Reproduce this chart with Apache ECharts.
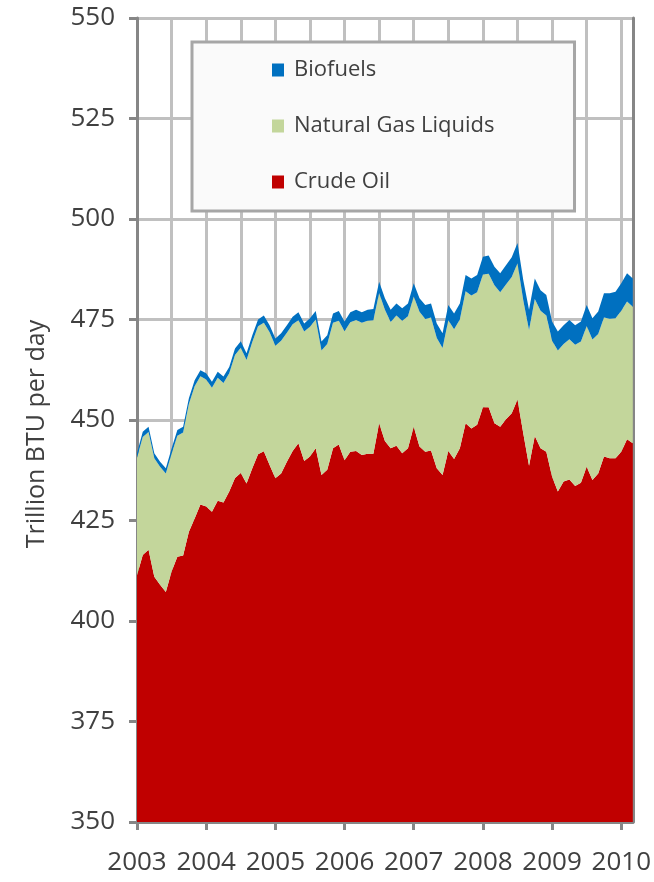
<!DOCTYPE html>
<html>
<head>
<meta charset="utf-8">
<script src="https://cdn.jsdelivr.net/npm/echarts@6/dist/echarts.min.js"></script>
<style>
  html, body { margin: 0; padding: 0; background: #fff; }
  #chart { width: 654px; height: 882px; }
</style>
</head>
<body>
<div id="chart"></div>
<script>
// monthly, Jan 2003 .. Mar 2010
var months = [];
for (var y = 2003; y <= 2010; y++) {
    for (var m = 1; m <= 12; m++) {
        if (y === 2010 && m > 3) break;
        months.push(y + '-' + (m < 10 ? '0' + m : m));
    }
}

var crudeOil = [
    411.4, 416.4, 417.7, 411.0, 409.0, 407.2, 412.3, 416.0, 416.3, 422.2, 425.5, 429.0,
    428.5, 427.2, 429.9, 429.5, 432.2, 435.6, 436.8, 434.2, 438.0, 441.5, 442.2, 438.8,
    435.5, 436.7, 439.6, 442.3, 444.2, 439.8, 440.9, 443.0, 436.3, 437.6, 443.0, 443.9,
    440.0, 442.1, 442.3, 441.3, 441.6, 441.6, 449.2, 444.8, 443.0, 443.6, 441.7, 443.0,
    448.3, 443.4, 442.1, 442.4, 438.0, 436.3, 442.3, 440.3, 443.0, 449.2, 447.9, 448.8,
    453.2, 453.2, 449.2, 448.3, 450.2, 451.7, 455.1, 446.7, 438.6, 446.0, 443.0, 442.1,
    435.9, 432.2, 434.7, 435.2, 433.6, 434.4, 438.4, 435.1, 436.7, 440.9, 440.5, 440.5,
    442.1, 445.2, 444.2
];

var gasLiquids = [
    29.2, 29.4, 29.3, 29.5, 29.4, 29.5, 29.3, 30.1, 30.6, 31.8, 32.9, 31.9,
    31.6, 30.8, 30.6, 29.7, 29.4, 30.6, 31.2, 30.7, 31.4, 31.8, 32.0, 33.0,
    33.0, 33.0, 32.1, 31.5, 30.6, 32.2, 32.3, 32.0, 31.0, 31.3, 31.2, 30.8,
    32.1, 32.2, 32.6, 32.9, 33.1, 33.2, 32.4, 32.6, 31.4, 32.4, 33.0, 32.8,
    32.4, 33.5, 33.0, 33.1, 32.4, 31.6, 32.5, 32.3, 32.0, 32.8, 33.1, 33.0,
    33.0, 33.2, 34.3, 33.5, 33.5, 33.9, 33.9, 33.1, 33.8, 34.1, 34.2, 33.9,
    33.8, 35.1, 34.2, 34.9, 35.1, 35.1, 35.0, 34.9, 34.7, 34.6, 34.7, 34.8,
    35.1, 34.3, 34.0
];

var biofuels = [
    1.2, 1.3, 1.3, 1.2, 1.2, 1.3, 1.3, 1.4, 1.4, 1.4, 1.5, 1.5,
    1.5, 1.5, 1.5, 1.6, 1.6, 1.6, 1.6, 1.7, 1.7, 1.7, 1.8, 1.8,
    1.8, 1.9, 1.9, 1.9, 2.0, 2.0, 2.1, 2.1, 2.2, 2.2, 2.3, 2.4,
    2.4, 2.5, 2.5, 2.6, 2.7, 2.8, 2.8, 2.9, 3.0, 3.0, 3.1, 3.2,
    3.3, 3.4, 3.5, 3.5, 3.6, 3.7, 3.8, 3.9, 4.0, 4.1, 4.2, 4.3,
    4.4, 4.5, 4.6, 4.7, 4.8, 4.9, 5.0, 5.0, 5.0, 5.1, 5.1, 5.1,
    4.8, 4.7, 4.7, 4.8, 4.9, 5.0, 5.2, 5.3, 5.6, 6.0, 6.3, 6.6,
    6.8, 7.0, 7.0
];

var font = 'Open Sans';
var textColor = '#404040';
var axisGrey = '#868686';
var gridGrey = '#c0c0c0';

var chart = echarts.init(document.getElementById('chart'));

chart.setOption({
    animation: false,
    backgroundColor: '#ffffff',
    textStyle: { fontFamily: font },
    grid: { left: 137, right: 20, top: 18, bottom: 60 },
    legend: {
        data: ['Biofuels', 'Natural Gas Liquids', 'Crude Oil'],
        orient: 'vertical',
        left: 192, top: 42,
        padding: [17, 80, 18, 80],
        itemGap: 34,
        itemWidth: 12, itemHeight: 13,
        icon: 'rect',
        backgroundColor: '#fafafa',
        borderColor: '#a6a6a6', borderWidth: 3,
        textStyle: { fontFamily: font, fontSize: 22, color: textColor, padding: [0, 0, 0, 5] }
    },
    xAxis: {
        type: 'category',
        data: months,
        boundaryGap: false,
        axisLine: { lineStyle: { color: axisGrey, width: 3 } },
        axisTick: {
            interval: 11,
            length: 8, lineStyle: { color: axisGrey, width: 3 }
        },
        axisLabel: {
            interval: 11,
            formatter: function (v) { return v.slice(0, 4); },
            margin: 28, fontSize: 26, color: textColor, fontFamily: font
        },
        splitLine: {
            show: true,
            interval: 5,   // every half year
            lineStyle: { color: gridGrey, width: 3 }
        }
    },
    yAxis: [{
        type: 'value',
        min: 350, max: 550, interval: 25,
        name: 'Trillion BTU per day',
        nameLocation: 'middle',
        nameGap: 88,
        nameTextStyle: { fontSize: 25, color: textColor, fontFamily: font, padding: [0, 28, 0, 0] },
        axisLine: { show: true, lineStyle: { color: axisGrey, width: 3 } },
        axisTick: { show: true, length: 8, lineStyle: { color: axisGrey, width: 3 } },
        axisLabel: { margin: 22, fontSize: 26, color: textColor, fontFamily: font },
        splitLine: { lineStyle: { color: gridGrey, width: 3 } }
    }, {
        type: 'value',
        min: 350, max: 550, interval: 25,
        position: 'right',
        axisLine: { show: true, lineStyle: { color: axisGrey, width: 3 } },
        axisTick: { show: false },
        axisLabel: { show: false },
        splitLine: { show: false }
    }],
    series: [{
        name: 'Crude Oil',
        type: 'line',
        stack: 'total',
        data: crudeOil,
        showSymbol: false,
        lineStyle: { width: 0 },
        itemStyle: { color: '#c00000' },
        areaStyle: { color: '#c00000', opacity: 1 }
    }, {
        name: 'Natural Gas Liquids',
        type: 'line',
        stack: 'total',
        data: gasLiquids,
        showSymbol: false,
        lineStyle: { width: 0 },
        itemStyle: { color: '#c3d69b' },
        areaStyle: { color: '#c3d69b', opacity: 1 }
    }, {
        name: 'Biofuels',
        type: 'line',
        stack: 'total',
        data: biofuels,
        showSymbol: false,
        lineStyle: { width: 0 },
        itemStyle: { color: '#0070c0' },
        areaStyle: { color: '#0070c0', opacity: 1 }
    }]
});
</script>
</body>
</html>
